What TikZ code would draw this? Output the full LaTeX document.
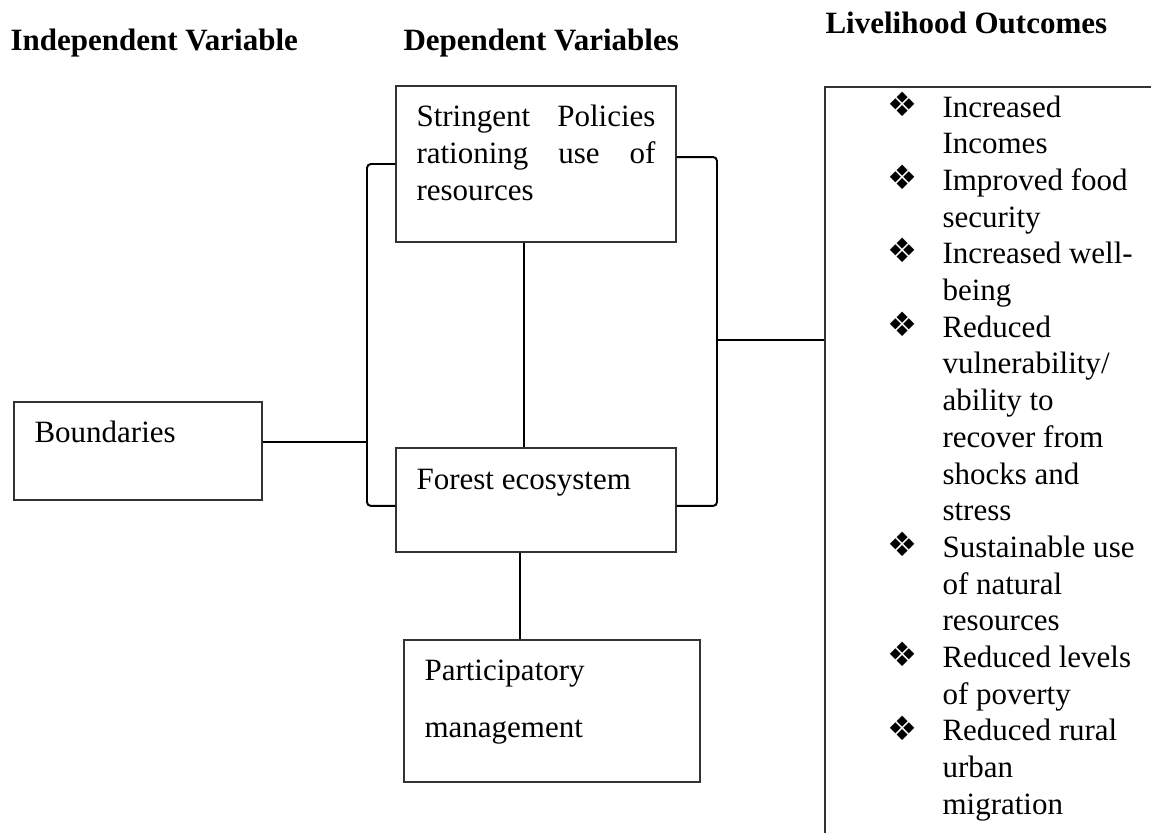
\documentclass[tikz,border=0pt]{standalone}
\usepackage{fontspec}
\setmainfont{Liberation Serif}
\newfontfamily\symfont{DejaVu Sans}
\usetikzlibrary{fit}

\tikzset{
  box/.style={draw=black!80, line width=0.5pt, inner sep=0pt},
  link/.style={line width=0.75pt, rounded corners=1.5pt},
  head/.style={font=\fontsize{12}{14.2}\selectfont\bfseries, inner sep=0pt, anchor=base west},
  txt/.style={font=\fontsize{12}{14.2}\selectfont, inner sep=0pt, anchor=base west},
  bul/.style={font=\fontsize{13}{14}\selectfont\symfont, inner sep=0pt}
}

\begin{document}
\begin{tikzpicture}[x=0.387pt, y=-0.387pt]
\useasboundingbox (0,0) rectangle (1151,832);
\clip (0,0) rectangle (1151,832);

% headings
\node[head] (hind) at (10,50) {Independent Variable};
\node[head] (hdep) at (403,50) {Dependent Variables};
\node[head] (hout) at (825,33) {Livelihood Outcomes};

% boxes
\node[box, fit={(14,402) (262,500)}] (bnd) {};
\node[box, fit={(396,86) (676,242)}] (pol) {};
\node[box, fit={(396,448) (676,552)}] (eco) {};
\node[box, fit={(404,640) (700,782)}] (par) {};
\node[box, fit={(825,87) (1180,860)}] (out) {};

% box texts
\node[txt] (tbnd) at (34,442) {Boundaries};
\node[txt] (tpol1) at (416,126) {\makebox[92.5pt][s]{Stringent Policies}};
\node[txt] (tpol2) at (416,163) {\makebox[92.5pt][s]{rationing use of}};
\node[txt] (tpol3) at (416,200) {resources};
\node[txt] (teco) at (416,489) {Forest ecosystem};
\node[txt] (tpar1) at (424,680) {Participatory};
\node[txt] (tpar2) at (424,737) {management};

% outcomes list
\foreach \t [count=\k from 0] in {Increased,Incomes,Improved food,security,Increased well-,being,Reduced,vulnerability/,ability to,recover from,shocks and,stress,Sustainable use,of natural,resources,Reduced levels,of poverty,Reduced rural,urban,migration}
  \node[txt] (o\k) at (942,117+36.7*\k) {\t};
\foreach \k in {0,2,4,6,12,15,17}
  \node[bul] (b\k) at (903,104+36.7*\k) {❖};

% connectors
\coordinate (lb) at (367,442);
\coordinate (rb) at (717,340);
\coordinate (m1) at (524,0);
\coordinate (m2) at (520,0);
\draw[link] (pol.west) -| (lb) |- ([yshift=-2.3pt]eco.west);
\draw[link] ([yshift=2.7pt]pol.east) -| (rb) |- ([yshift=-2.3pt]eco.east);
\draw[link] (bnd.east |- lb) -- (lb);
\draw[link] (rb) -- (rb -| out.west);
\draw[link] (pol.south -| m1) -- (eco.north -| m1);
\draw[link] (eco.south -| m2) -- (par.north -| m2);
\end{tikzpicture}
\end{document}
